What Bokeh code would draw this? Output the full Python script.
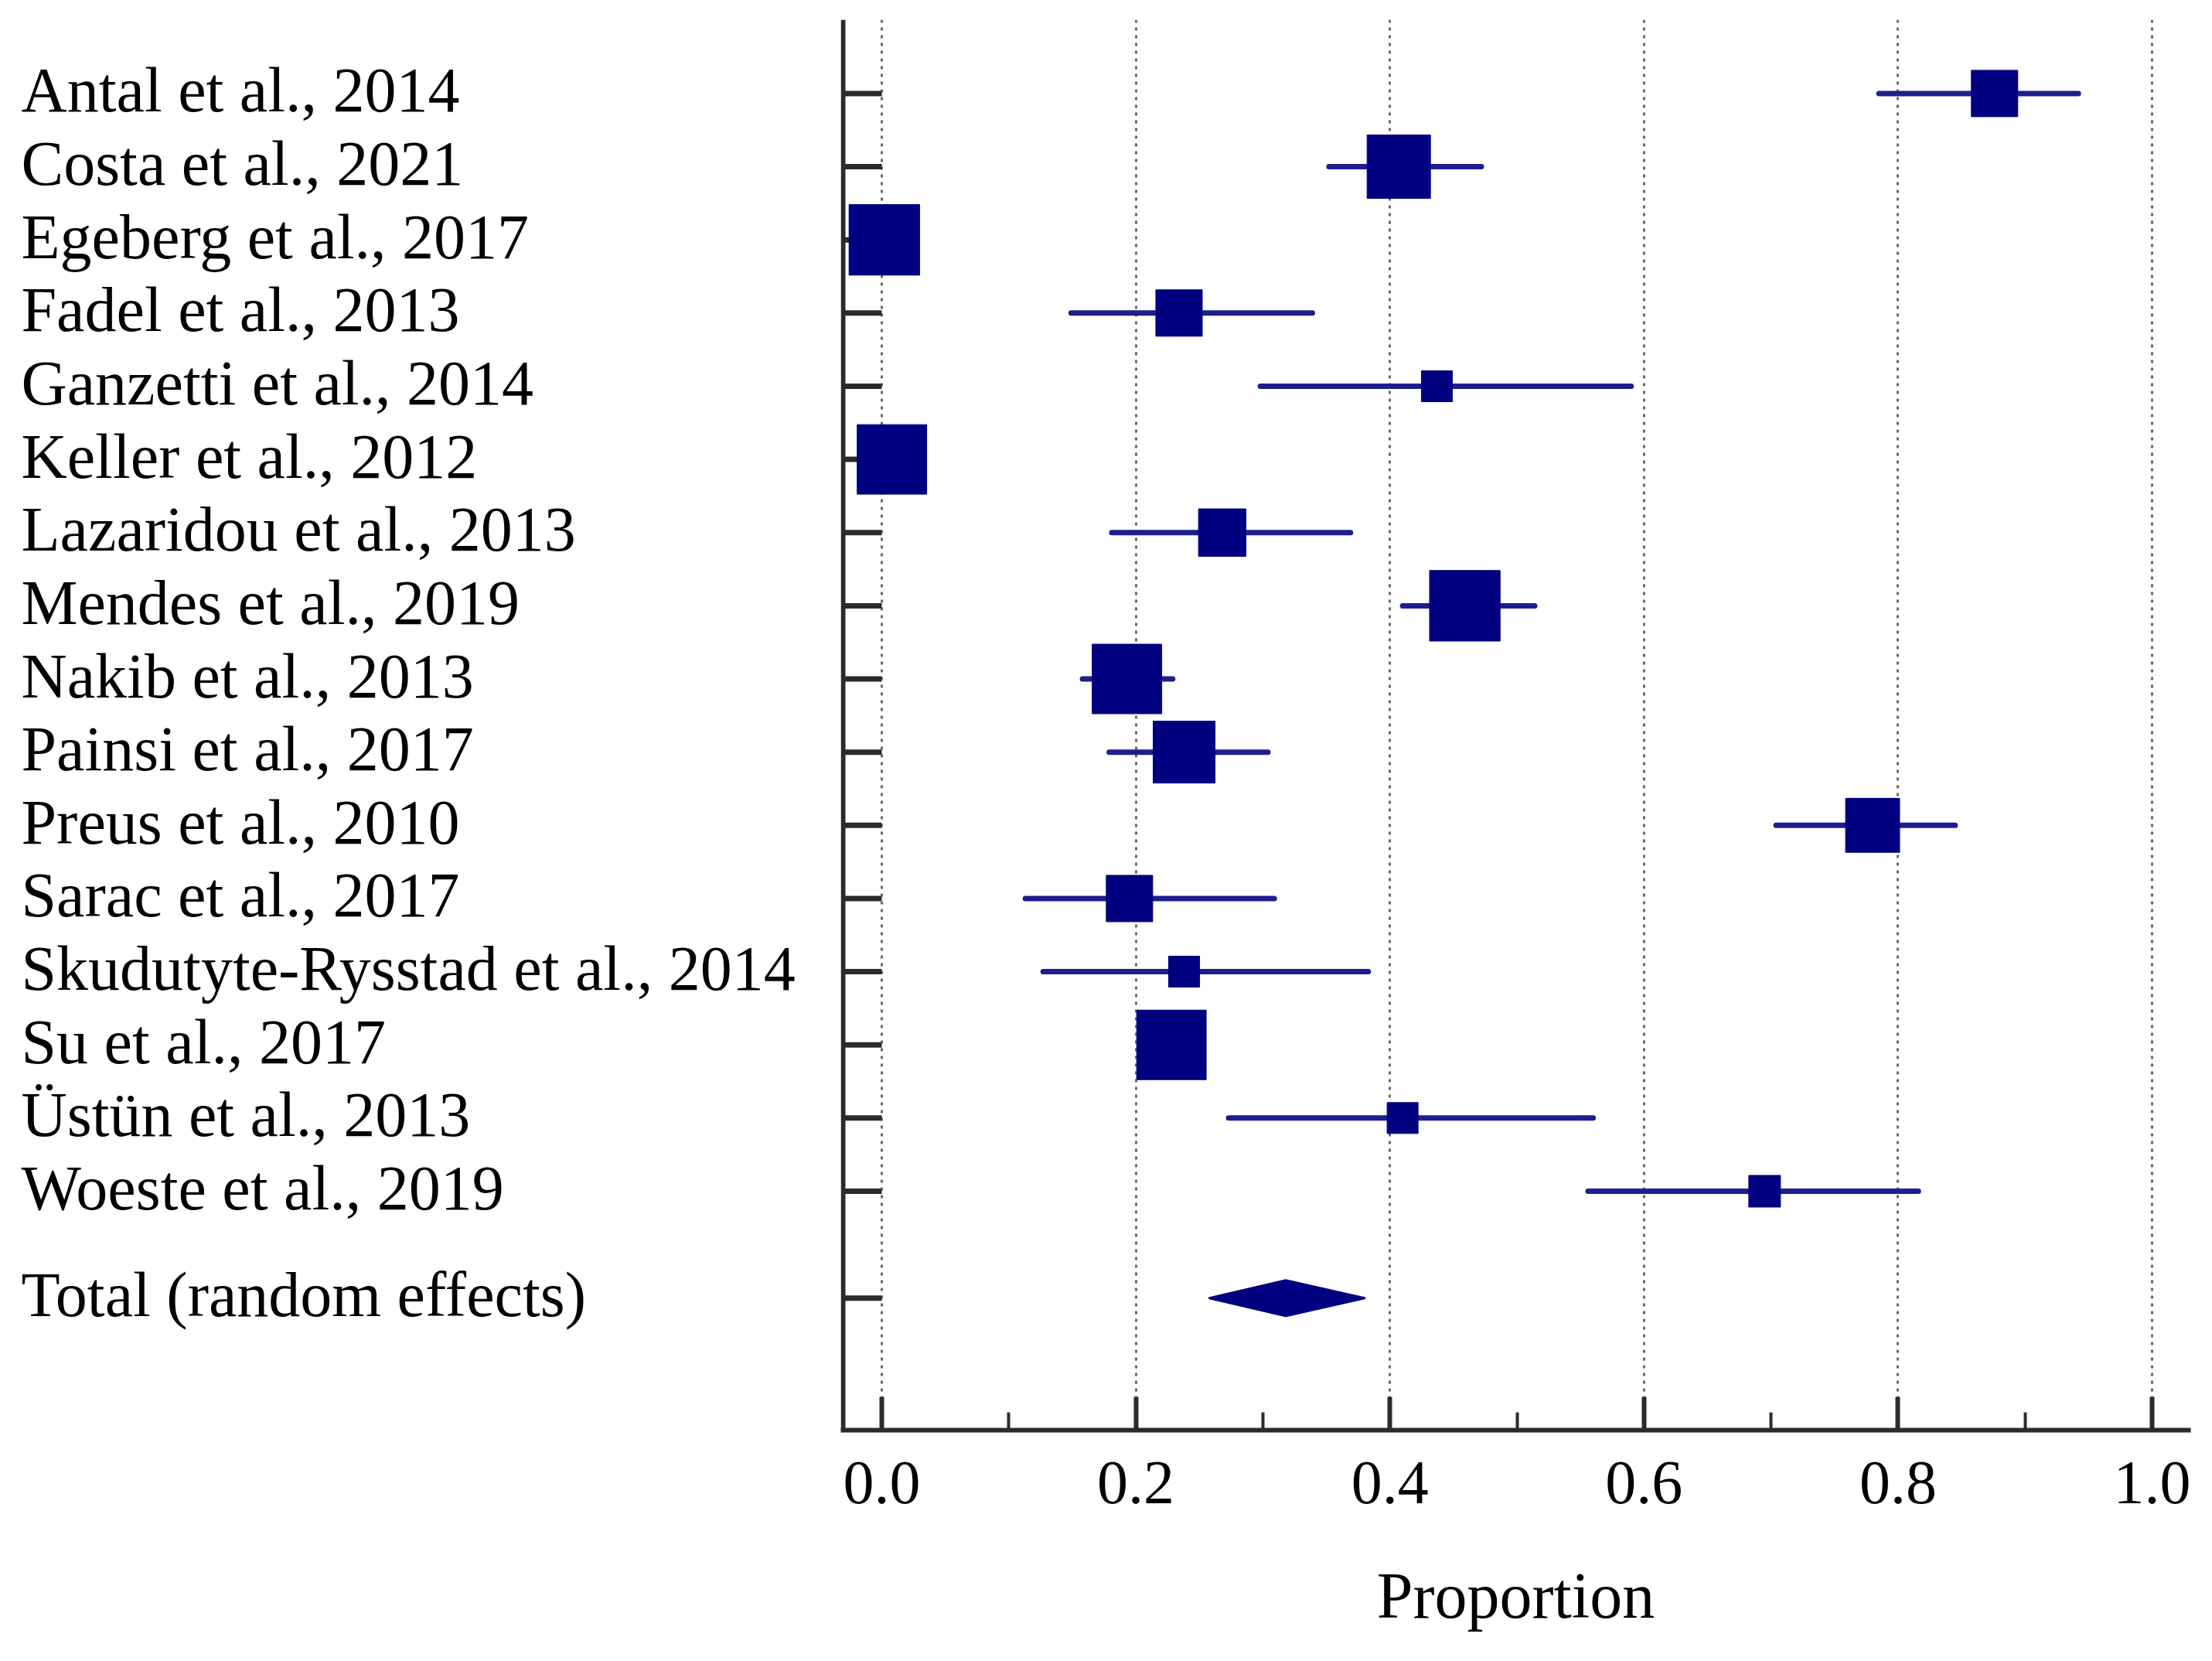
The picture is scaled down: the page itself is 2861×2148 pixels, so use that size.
from bokeh.plotting import figure
from bokeh.layouts import row
from bokeh.models import ColumnDataSource, FixedTicker, Range1d, NumeralTickFormatter
from bokeh.core.properties import value
from bokeh.embed import file_html
from bokeh.resources import INLINE
import numpy as np

# ---------------- data ----------------
studies = [
    "Antal et al., 2014",
    "Costa et al., 2021",
    "Egeberg et al., 2017",
    "Fadel et al., 2013",
    "Ganzetti et al., 2014",
    "Keller et al., 2012",
    "Lazaridou et al., 2013",
    "Mendes et al., 2019",
    "Nakib et al., 2013",
    "Painsi et al., 2017",
    "Preus et al., 2010",
    "Sarac et al., 2017",
    "Skudutyte-Rysstad et al., 2014",
    "Su et al., 2017",
    "Üstün et al., 2013",
    "Woeste et al., 2019",
]
estimate = [0.876, 0.407, 0.002, 0.234, 0.437, 0.008, 0.268, 0.459,
            0.193, 0.238, 0.780, 0.195, 0.238, 0.228, 0.410, 0.695]
ci_lower = [0.785, 0.352, 0.000, 0.149, 0.298, 0.003, 0.181, 0.410,
            0.158, 0.179, 0.704, 0.113, 0.127, 0.205, 0.273, 0.556]
ci_upper = [0.942, 0.472, 0.006, 0.339, 0.590, 0.015, 0.369, 0.514,
            0.229, 0.304, 0.845, 0.309, 0.383, 0.252, 0.560, 0.816]
weight = [4.5, 8.4, 10.4, 4.5, 2.0, 10.1, 4.7, 10.4,
          10.1, 8.0, 6.1, 4.5, 2.0, 10.1, 2.0, 2.1]

total_label = "Total (random effects)"
total_estimate = 0.318
total_lower = 0.258
total_upper = 0.380

x_ticks = [0.0, 0.2, 0.4, 0.6, 0.8, 1.0]
x_minor_ticks = [0.1, 0.3, 0.5, 0.7, 0.9]
x_title = "Proportion"

# ---------------- layout ----------------
n = len(studies)
rows = list(range(n))
total_row = n + 0.46
all_rows = rows + [total_row]
size_px = [28.3 * np.sqrt(w) for w in weight]

FONT = "Liberation Serif"
SQ = "#000080"
CI = "#1e1e8f"
AX = "#2b2b2b"

W_TOTAL = 2845
H_TOTAL = 2132
W_LEFT = 1087          # label panel width (frame of main plot starts here)
TOP = 25
BOTTOM = 283

x_left = -0.03226      # value at frame left edge
x_spine = -0.03043     # position of the vertical spine
x_right = 1.03043
y_top = -1.008
y_bottom = 18.265

y_range = Range1d(y_bottom, y_top)

# ---- label panel ----
lab = figure(width=W_LEFT, height=H_TOTAL, output_backend="svg", toolbar_location=None,
             x_range=Range1d(0, W_LEFT), y_range=y_range,
             x_axis_location=None, y_axis_location=None,
             min_border_left=0, min_border_right=0, min_border_top=TOP,
             min_border_bottom=BOTTOM)
lab.outline_line_color = None
lab.grid.visible = False
lab_src = ColumnDataSource(dict(x=[27] * len(all_rows), y=all_rows,
                                name=studies + [total_label]))
lab.text(x="x", y="y", text="name", source=lab_src, text_font=value(FONT),
         text_font_size=value("82px"), text_align="left", text_baseline="middle",
         text_color="black", y_offset=-4)

# ---- main plot ----
p = figure(width=W_TOTAL - W_LEFT, height=H_TOTAL, output_backend="svg",
           toolbar_location=None, y_axis_location=None,
           x_range=Range1d(x_left, x_right), y_range=y_range,
           min_border_left=0, min_border_right=12, min_border_top=TOP,
           min_border_bottom=BOTTOM)
p.outline_line_color = None

p.xaxis.ticker = FixedTicker(ticks=x_ticks, minor_ticks=x_minor_ticks)
p.xaxis.formatter = NumeralTickFormatter(format="0.0")
p.xaxis.major_tick_in = 43
p.xaxis.major_tick_out = 0
p.xaxis.minor_tick_in = 23
p.xaxis.minor_tick_out = 0
p.xaxis.axis_line_width = 6
p.xaxis.axis_line_color = AX
p.xaxis.major_tick_line_width = 6
p.xaxis.minor_tick_line_width = 4
p.xaxis.major_tick_line_color = AX
p.xaxis.minor_tick_line_color = AX
p.xaxis.major_label_text_font = FONT
p.xaxis.major_label_text_font_size = "80px"
p.xaxis.major_label_text_color = "black"
p.xaxis.major_label_standoff = 41
p.xaxis.axis_label = x_title
p.xaxis.axis_label_text_font = FONT
p.xaxis.axis_label_text_font_size = "84px"
p.xaxis.axis_label_text_font_style = "normal"
p.xaxis.axis_label_text_color = "black"
p.xaxis.axis_label_standoff = 70

p.ygrid.grid_line_color = None
p.xgrid.ticker = FixedTicker(ticks=x_ticks)
p.xgrid.grid_line_color = "#6a6a6a"
p.xgrid.grid_line_width = 3
p.xgrid.grid_line_dash = "4 6"

# spine and row ticks
p.segment(x0=[x_spine], y0=[y_top], x1=[x_spine], y1=[y_bottom],
          line_color=AX, line_width=6)
p.segment(x0=[x_spine] * len(all_rows), y0=all_rows, x1=[0.0] * len(all_rows),
          y1=all_rows, line_color=AX, line_width=7)

src = ColumnDataSource(dict(y=rows, est=estimate, lo=ci_lower, hi=ci_upper, size=size_px))
p.segment(x0="lo", y0="y", x1="hi", y1="y", source=src, line_color=CI,
          line_width=7, line_cap="round")
p.rect(x="est", y="y", width="size", height="size", width_units="screen",
       height_units="screen", source=src, fill_color=SQ, line_color=SQ)

half_h = 0.243
p.patch(x=[total_lower, total_estimate, total_upper, total_estimate],
        y=[total_row, total_row - half_h, total_row, total_row + half_h],
        fill_color=SQ, line_color=SQ, line_width=3, line_join="round")

layout = row(lab, p)
open("out.html", "w").write(file_html(layout, INLINE))
